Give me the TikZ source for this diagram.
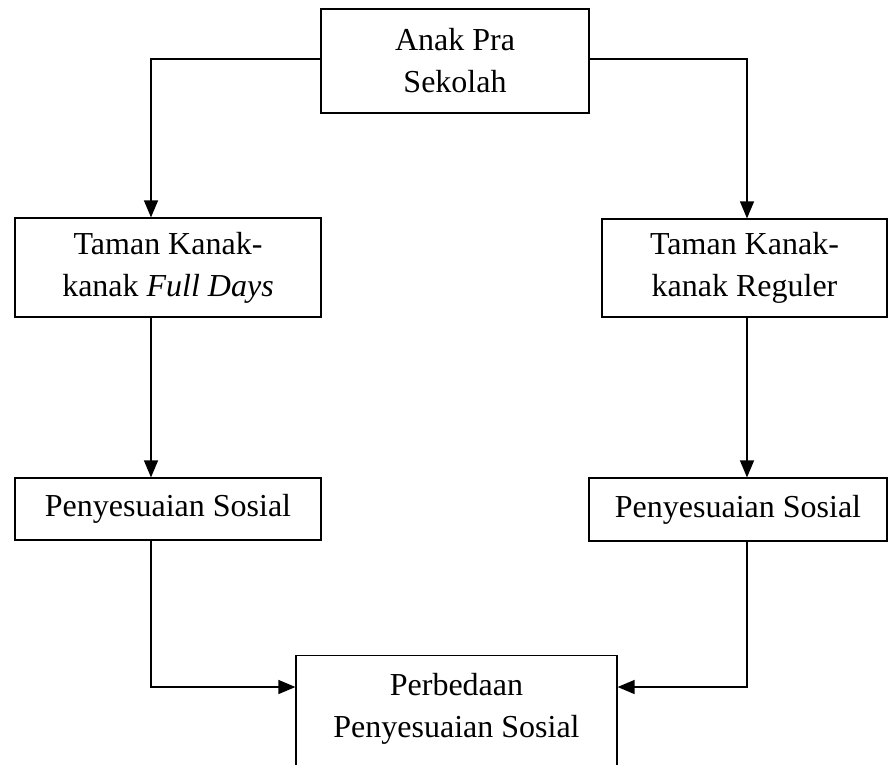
\documentclass[tikz,border=0pt]{standalone}
\usepackage{fontspec}
\setmainfont{Liberation Serif}
\usetikzlibrary{arrows.meta}
\begin{document}
\begin{tikzpicture}[x=1pt,y=-1pt,
  box/.style={draw, line width=1.2pt, rectangle, inner sep=0pt, align=center,
    font=\fontsize{32}{42}\selectfont},
  conn/.style={line width=1.3pt},
  arr/.style={conn, -{Triangle[length=17pt,width=14pt]}}]
\useasboundingbox (0,0) rectangle (888,764);
\node[box, minimum width=268pt, minimum height=104pt] (top) at (455,61) {Anak Pra\\Sekolah};
\node[box, minimum width=306pt, minimum height=99pt] (left1) at (168,267.5) {Taman Kanak-\\kanak \textit{Full Days}};
\node[box, minimum width=285pt, minimum height=98pt] (right1) at (744.5,268) {Taman Kanak-\\kanak Reguler};
\node[box, minimum width=306pt, minimum height=62pt] (left2) at (168,509) {Penyesuaian Sosial};
\node[box, minimum width=298pt, minimum height=63pt] (right2) at (738,509.5) {Penyesuaian Sosial};
\node[box, minimum width=321pt, minimum height=130pt, anchor=north] (bot) at (456.5,655) {};
\node[align=center, inner sep=0pt, font=\fontsize{32}{42}\selectfont, anchor=base] (bottext) at (456.5,737) {Perbedaan\\Penyesuaian Sosial};
\coordinate (lx) at (151,0);
\coordinate (rx) at (747,0);
\coordinate (ay) at (0,687);
\draw[arr] (top.west |- 0,59) -| (lx |- left1.north);
\draw[arr] (top.east |- 0,59) -| (rx |- right1.north);
\draw[arr] (lx |- left1.south) -- (lx |- left2.north);
\draw[arr] (rx |- right1.south) -- (rx |- right2.north);
\draw[arr] (lx |- left2.south) |- (ay -| bot.west);
\draw[arr] (rx |- right2.south) |- (ay -| bot.east);
\end{tikzpicture}
\end{document}
